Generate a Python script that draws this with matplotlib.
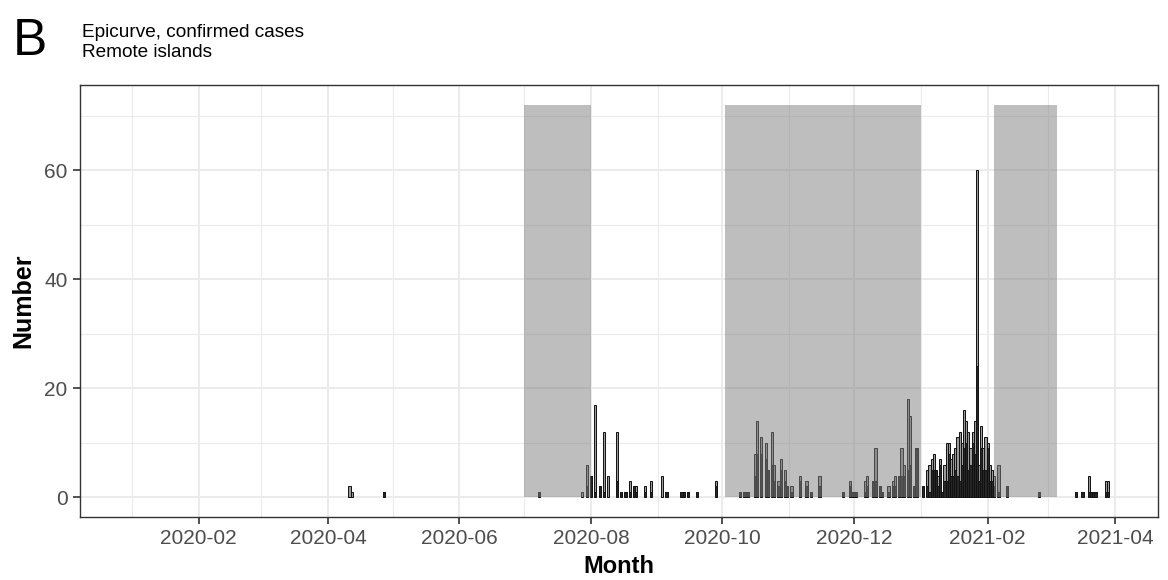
import pandas as pd
import matplotlib.pyplot as plt
import matplotlib.dates as mdates
from matplotlib.ticker import MultipleLocator

plt.rcParams['font.family'] = ['Liberation Sans', 'DejaVu Sans']

# daily confirmed cases (dark = first group, light = second group, stacked)
days = ['2020-04-11', '2020-04-12', '2020-04-27', '2020-07-08', '2020-07-28', '2020-07-30',
        '2020-08-01', '2020-08-03', '2020-08-05', '2020-08-07', '2020-08-09', '2020-08-13',
        '2020-08-15', '2020-08-17', '2020-08-19', '2020-08-21', '2020-08-22', '2020-08-26',
        '2020-08-29', '2020-09-03', '2020-09-05', '2020-09-12', '2020-09-13', '2020-09-15',
        '2020-09-19', '2020-09-28',
        '2020-10-09', '2020-10-11', '2020-10-12', '2020-10-13', '2020-10-16', '2020-10-17',
        '2020-10-19', '2020-10-21', '2020-10-22', '2020-10-24', '2020-10-25', '2020-10-27',
        '2020-10-28', '2020-10-30', '2020-10-31', '2020-11-02', '2020-11-06', '2020-11-09',
        '2020-11-11', '2020-11-15', '2020-11-26', '2020-11-29', '2020-11-30', '2020-12-01',
        '2020-12-02', '2020-12-06', '2020-12-07', '2020-12-10', '2020-12-11', '2020-12-13',
        '2020-12-14', '2020-12-17', '2020-12-19', '2020-12-20', '2020-12-22', '2020-12-23',
        '2020-12-24', '2020-12-26', '2020-12-27', '2020-12-29', '2020-12-30',
        '2021-01-02', '2021-01-04', '2021-01-05', '2021-01-06', '2021-01-07', '2021-01-08',
        '2021-01-09', '2021-01-10', '2021-01-11', '2021-01-12', '2021-01-13', '2021-01-14',
        '2021-01-15', '2021-01-16', '2021-01-17', '2021-01-18', '2021-01-19', '2021-01-20',
        '2021-01-21', '2021-01-22', '2021-01-23', '2021-01-24', '2021-01-25', '2021-01-26',
        '2021-01-27', '2021-01-28', '2021-01-29', '2021-01-30', '2021-01-31', '2021-02-01',
        '2021-02-02', '2021-02-03', '2021-02-04', '2021-02-06', '2021-02-10', '2021-02-25',
        '2021-03-14', '2021-03-17', '2021-03-20', '2021-03-21', '2021-03-22', '2021-03-23',
        '2021-03-28', '2021-03-29']
dark = [0, 0, 1, 1, 0, 2,
        4, 1, 2, 1, 0, 3,
        1, 1, 1, 2, 1, 1,
        1, 0, 1, 1, 1, 1,
        1, 2,
        1, 1, 1, 1, 4, 8,
        8, 7, 5, 6, 3, 2,
        5, 3, 2, 1, 3, 2,
        1, 2, 1, 2, 1, 1,
        1, 1, 2, 3, 3, 2,
        1, 1, 2, 2, 4, 4,
        4, 5, 6, 2, 9,
        2, 2, 1, 5, 5, 5,
        2, 6, 1, 3, 3, 8,
        4, 4, 5, 4, 3, 6,
        9, 10, 5, 6, 10, 8,
        24, 3, 9, 5, 5, 9,
        3, 3, 2, 1, 2, 1,
        1, 1, 1, 1, 1, 1,
        1, 1]
light = [2, 1, 0, 0, 1, 4,
         0, 16, 0, 11, 4, 9,
         0, 0, 2, 0, 1, 1,
         2, 4, 0, 0, 0, 0,
         0, 1,
         0, 0, 0, 0, 4, 6,
         3, 3, 0, 6, 3, 1,
         2, 2, 0, 1, 1, 1,
         0, 2, 0, 1, 0, 0,
         0, 2, 2, 0, 6, 0,
         0, 1, 1, 2, 0, 5,
         2, 13, 9, 0, 0,
         0, 3, 5, 2, 3, 0,
         2, 1, 0, 3, 7, 2,
         3, 4, 4, 7, 9, 4,
         7, 4, 7, 3, 2, 6,
         36, 3, 4, 4, 6, 1,
         3, 2, 2, 5, 0, 0,
         0, 0, 3, 0, 0, 0,
         2, 2]

# shaded periods
periods = [('2020-07-01', '2020-08-01'), ('2020-10-02', '2021-01-01'), ('2021-02-04', '2021-03-05')]
shade_top = 72

x = pd.to_datetime(days)

fig = plt.figure(figsize=(11.68, 5.80), dpi=100)
ax = fig.add_axes([80 / 1168, 63 / 580, 1078 / 1168, 432 / 580])

ax.bar(x, dark, width=1.0, color='#262626', edgecolor='#111111', linewidth=0.7, zorder=3)
ax.bar(x, light, width=1.0, bottom=dark, color='#9a9a9a', edgecolor='#111111', linewidth=0.7, zorder=3)

for start, end in periods:
    ax.fill_between(pd.to_datetime([start, end]), 0, shade_top, color='#7f7f7f', alpha=0.5,
                    linewidth=0, zorder=4)

ax.set_xlim(pd.Timestamp('2019-12-08'), pd.Timestamp('2021-04-21'))
ax.set_ylim(-3.6, 75.6)

ax.xaxis.set_major_locator(mdates.MonthLocator(bymonth=[2, 4, 6, 8, 10, 12]))
ax.xaxis.set_minor_locator(mdates.MonthLocator(bymonth=[1, 3, 5, 7, 9, 11]))
ax.xaxis.set_major_formatter(mdates.DateFormatter('%Y-%m'))
ax.yaxis.set_major_locator(MultipleLocator(20))
ax.yaxis.set_minor_locator(MultipleLocator(10))

ax.grid(which='major', color='#ebebeb', linewidth=1.4, zorder=0)
ax.grid(which='minor', color='#ebebeb', linewidth=0.8, zorder=0)
ax.set_axisbelow(True)
for s in ax.spines.values():
    s.set_color('#333333')
    s.set_linewidth(1.0)

ax.tick_params(which='major', length=5, width=1.2, color='#333333', labelsize=15,
               labelcolor='#4d4d4d', pad=4)
ax.tick_params(which='minor', length=0)

ax.set_xlabel('Month', fontsize=17, fontweight='bold', labelpad=5)
ax.set_ylabel('Number', fontsize=18, fontweight='bold', labelpad=6)

fig.text(13 / 1168, 1 - 55 / 580, 'B', fontsize=37, va='baseline', ha='left')
fig.text(82 / 1168, 1 - 37 / 580, 'Epicurve, confirmed cases', fontsize=13.7, va='baseline', ha='left')
fig.text(82 / 1168, 1 - 57 / 580, 'Remote islands', fontsize=13.7, va='baseline', ha='left')

plt.savefig('out.png', dpi=100)
